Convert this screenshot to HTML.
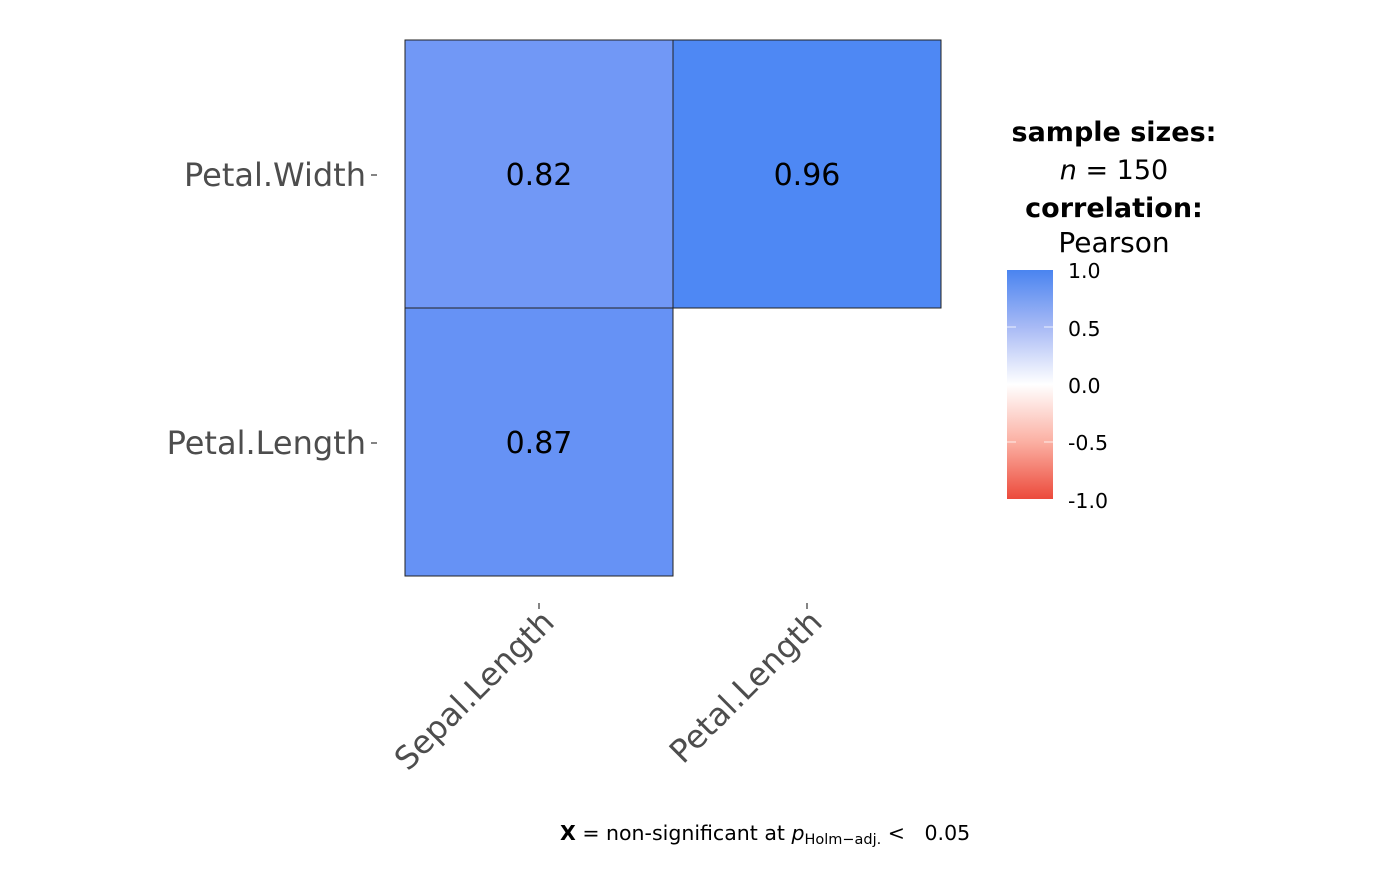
<!DOCTYPE html>
<html><head><style>body{margin:0;background:#fff}</style></head><body>
<svg width="1400" height="866" xmlns="http://www.w3.org/2000/svg" font-family="DejaVu Sans, Liberation Sans, sans-serif">
<defs><linearGradient id="g" x1="0" y1="0" x2="0" y2="1">
<stop offset="0" stop-color="#4a84f0"/><stop offset="0.25" stop-color="#a8baf5"/><stop offset="0.5" stop-color="#ffffff"/><stop offset="0.75" stop-color="#fbb0a3"/><stop offset="1" stop-color="#ec4a3b"/></linearGradient></defs>
<rect x="405" y="40" width="268" height="268" fill="#7198f6" stroke="#222" stroke-width="1"/>
<rect x="673" y="40" width="268" height="268" fill="#4e88f4" stroke="#222" stroke-width="1"/>
<rect x="405" y="308" width="268" height="268" fill="#6692f5" stroke="#222" stroke-width="1"/>
<g font-size="30" text-anchor="middle" fill="#000">
<text x="539" y="185">0.82</text><text x="807" y="185">0.96</text><text x="539" y="453">0.87</text></g>
<g font-size="32" text-anchor="end" fill="#4d4d4d">
<text x="366" y="186">Petal.Width</text><text x="366" y="454">Petal.Length</text></g>
<g stroke="#333" stroke-width="1.2"><line x1="371" y1="175" x2="377" y2="175"/><line x1="371" y1="443" x2="377" y2="443"/>
<line x1="539" y1="603" x2="539" y2="609"/><line x1="807" y1="603" x2="807" y2="609"/></g>
<g font-size="32" text-anchor="end" fill="#4d4d4d">
<text transform="translate(556,624) rotate(-45)">Sepal.Length</text>
<text transform="translate(824,624) rotate(-45)">Petal.Length</text></g>
<g text-anchor="middle" font-size="27" fill="#000">
<text x="1114" y="141" font-weight="bold">sample sizes:</text>
<text x="1114" y="179"><tspan font-style="italic">n</tspan> = 150</text>
<text x="1114" y="217" font-weight="bold">correlation:</text>
<text x="1114" y="252" font-size="28">Pearson</text></g>
<rect x="1007" y="270" width="46" height="229" fill="url(#g)"/>
<g stroke="#fff" stroke-width="1" opacity="0.8"><line x1="1007" y1="327" x2="1016" y2="327"/><line x1="1044" y1="327" x2="1053" y2="327"/>
<line x1="1007" y1="442" x2="1016" y2="442"/><line x1="1044" y1="442" x2="1053" y2="442"/></g>
<g font-size="20.5" fill="#000">
<text x="1068" y="278">1.0</text><text x="1068" y="336">0.5</text><text x="1068" y="393">0.0</text><text x="1068" y="450">-0.5</text><text x="1068" y="508">-1.0</text></g>
<text x="560" y="840" font-size="20.5" fill="#000"><tspan font-weight="bold">X</tspan> = non-significant at <tspan font-style="italic">p</tspan><tspan font-size="14.5" dy="4">Holm−adj.</tspan><tspan dy="-4" xml:space="preserve"> &lt;   0.05</tspan></text>
</svg>
</body></html>
